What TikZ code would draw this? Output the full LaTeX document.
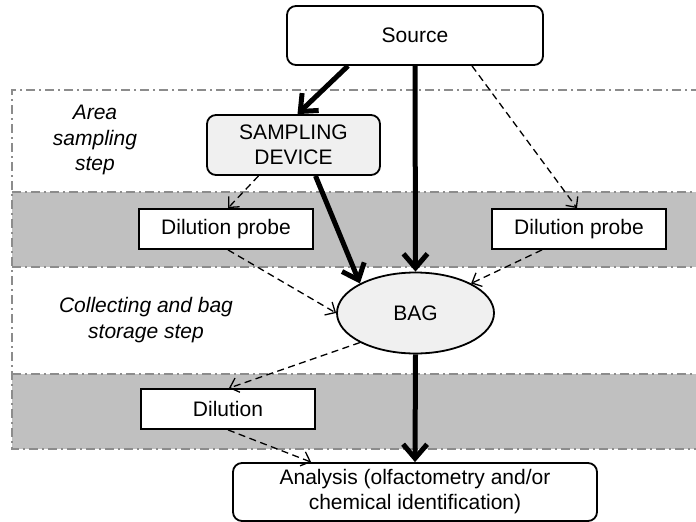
\documentclass[tikz,border=0pt]{standalone}
\usepackage{fontspec}
\setmainfont{Liberation Sans}
\usetikzlibrary{arrows.meta,calc,shapes.geometric}
\definecolor{bandgray}{HTML}{C0C0C0}
\definecolor{lightfill}{HTML}{F0F0F0}
\definecolor{linegray}{HTML}{8C8C8C}
\tikzset{
  boxstyle/.style={draw=black, line width=1.8pt, inner sep=0pt, align=center,
    font=\fontsize{21}{25}\selectfont},
  roundbox/.style={boxstyle, rounded corners=9pt},
  steplabel/.style={align=center, font=\fontsize{21}{25.5}\selectfont\itshape},
  thickarrow/.style={line width=5pt, -{Straight Barb[length=14pt,width=24pt]}},
  dasharrow/.style={line width=1.3pt, dash pattern=on 7pt off 4.5pt,
    -{Straight Barb[length=8pt,width=15pt]}},
  zoneline/.style={draw=linegray, line width=1.5pt,
    dash pattern=on 9pt off 4pt on 2pt off 4pt},
}
\begin{document}
\begin{tikzpicture}[x=1pt,y=-1pt]
\useasboundingbox (0,0) rectangle (696,522);
\clip (0,0) rectangle (696,522);
% gray bands
\fill[bandgray] (12,192) rectangle (700,267);
\fill[bandgray] (12,374) rectangle (700,449);
% zone outlines
\draw[zoneline] (700,90) -- (12,90) -- (12,449) -- (700,449);
\draw[zoneline] (12,192) -- (700,192);
\draw[zoneline] (12,267) -- (700,267);
\draw[zoneline] (12,374) -- (700,374);
% step labels
\node[steplabel] (arealbl) at (95,140) {Area\\sampling\\step};
\node[steplabel] (colllbl) at (146,320) {Collecting and bag\\storage step};
% nodes
\node[roundbox, fill=white, minimum width=256pt, minimum height=59pt] (src) at (415,35.5) {Source};
\node[roundbox, fill=lightfill, minimum width=173pt, minimum height=60pt] (samp) at (293.5,145) {SAMPLING\\DEVICE};
\node[boxstyle, fill=white, minimum width=174pt, minimum height=40pt] (probeL) at (226,229) {Dilution probe};
\node[boxstyle, fill=white, minimum width=174pt, minimum height=40pt] (probeR) at (579,229) {Dilution probe};
\node[boxstyle, ellipse, fill=lightfill, minimum width=157pt, minimum height=81pt] (bag) at (415.5,313) {BAG};
\node[boxstyle, fill=white, minimum width=174pt, minimum height=40pt] (dil) at (228,409) {Dilution};
\node[roundbox, fill=white, minimum width=364pt, minimum height=58pt] (ana) at (415,492) {Analysis (olfactometry and/or\\chemical identification)};
% connectors
\draw[thickarrow] ($(src.south)+(-67,0)$) -- ($(samp.north)+(4,0)$);
\draw[thickarrow] (src.south) -- (bag.north);
\draw[dasharrow] ($(src.south)+(57,0)$) -- ($(probeR.north)+(-2,0)$);
\draw[dasharrow] ($(samp.south)+(-35,0)$) -- ($(probeL.north)+(2,0)$);
\draw[thickarrow] ($(samp.south)+(22,0)$) -- (bag.152);
\draw[dasharrow] ($(probeL.south)+(2,0)$) -- (bag.west);
\draw[dasharrow] ($(probeR.south)+(-37,0)$) -- (bag.28);
\draw[dasharrow] (bag.208) -- ($(dil.north)+(1,0)$);
\draw[thickarrow] (bag.south) -- (ana.north);
\draw[dasharrow] (dil.south) -- ($(ana.north west)+(79,0)$);
\end{tikzpicture}
\end{document}
